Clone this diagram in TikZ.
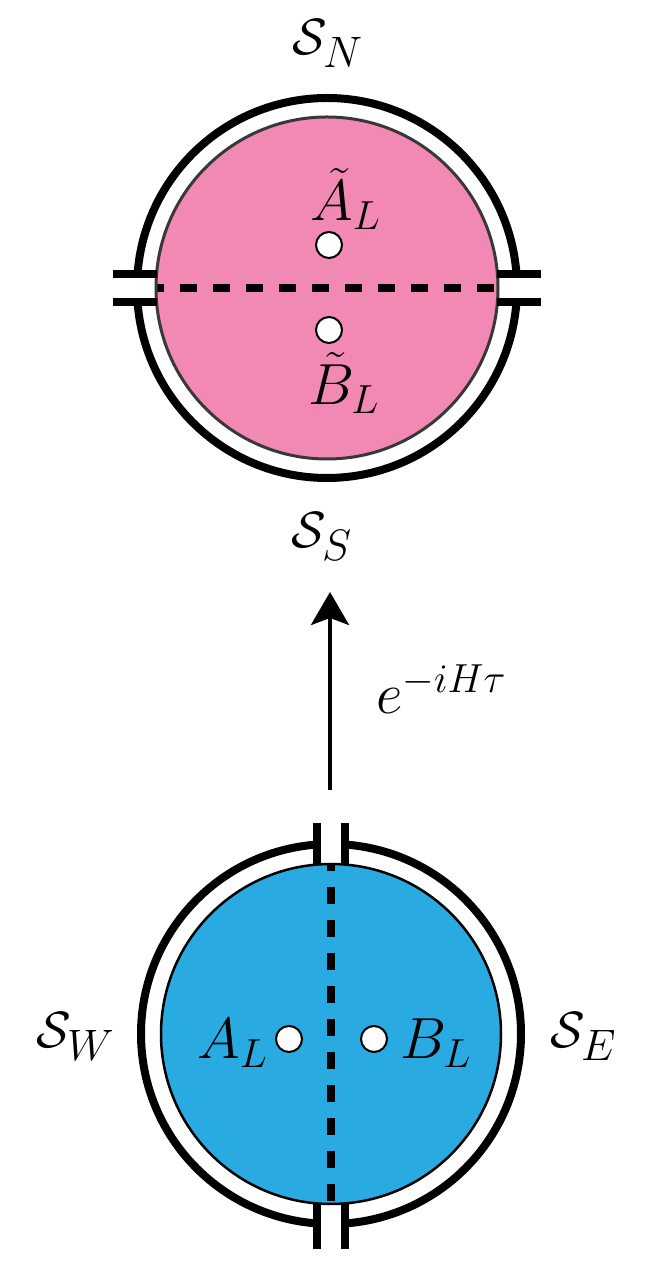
\RequirePackage{fix-cm}
\documentclass[tikz,border=0pt]{standalone}
\usetikzlibrary{arrows.meta}
\definecolor{pinkfill}{RGB}{242,137,180}
\definecolor{bluefill}{RGB}{41,170,225}
\newcommand{\ssub}[1]{\mbox{\fontsize{44}{46}\selectfont$#1$}}
\begin{document}
\begin{tikzpicture}[x=1pt,y=1pt,
  ring/.style={line width=8pt},
  stub/.style={line width=8pt},
  divider/.style={line width=8pt, dash pattern=on 17pt off 16pt},
  site/.style={circle, draw=black, line width=2pt, fill=white, minimum size=26pt, inner sep=0pt},
  lab/.style={inner sep=0pt, anchor=base west, font=\fontsize{58}{60}\selectfont},
  slab/.style={inner sep=0pt, anchor=base west, font=\fontsize{51}{53}\selectfont}]
\useasboundingbox (0,0) rectangle (664,1280);
% ---------- top disk ----------
\coordinate (T) at (327,992);
\fill[pinkfill] (T) circle[radius=171];
\draw[divider, dash phase=9pt] ([xshift=-171pt]T) -- ([xshift=171pt]T);
\draw[draw=black!78, line width=3pt] (T) circle[radius=171];
\draw[stub] ([shift={(-170,14)}]T) -- ++(-44,0);
\draw[stub] ([shift={(-170,-14)}]T) -- ++(-44,0);
\draw[stub] ([shift={(170,14)}]T) -- ++(44,0);
\draw[stub] ([shift={(170,-14)}]T) -- ++(44,0);
\draw[ring] ([shift={(4.23:190)}]T) arc[start angle=4.23, end angle=175.77, radius=190];
\draw[ring] ([shift={(184.23:190)}]T) arc[start angle=184.23, end angle=355.77, radius=190];
\node[site] (At) at (329,1035) {};
\node[site] (Bt) at (329,950) {};
\node[lab] (Atl) at (310,1059) {$\tilde{A}_L$};
\node[lab] (Btl) at (308,875) {$\tilde{B}_L$};
\node[slab] (SN) at (292,1225) {$\mathcal{S}_{\ssub{N}}$};
\node[slab] (SS) at (291,732) {$\mathcal{S}_{\ssub{S}}$};
% ---------- arrow ----------
\coordinate (arrS) at (330,490);
\coordinate (arrE) at (330,688);
\draw[line width=4pt, -{Stealth[length=33pt, width=38pt, inset=7pt]}] (arrS) -- (arrE);
\node[lab] (evo) at (376,566) {$e^{-iH\tau}$};
% ---------- bottom disk ----------
\coordinate (Bc) at (331,246);
\fill[bluefill] (Bc) circle[radius=170];
\draw[divider, dash phase=10pt] ([yshift=170pt]Bc) -- ([yshift=-170pt]Bc);
\draw[draw=black, line width=2.5pt] (Bc) circle[radius=170];
\draw[stub] ([shift={(-14,169)}]Bc) -- ++(0,42);
\draw[stub] ([shift={(14,169)}]Bc) -- ++(0,42);
\draw[stub] ([shift={(-14,-169)}]Bc) -- ++(0,-46);
\draw[stub] ([shift={(14,-169)}]Bc) -- ++(0,-46);
\draw[ring] ([shift={(85.77:190)}]Bc) arc[start angle=85.77, end angle=-85.77, radius=190];
\draw[ring] ([shift={(94.23:190)}]Bc) arc[start angle=94.23, end angle=265.77, radius=190];
\node[site] (Ab) at (289,241) {};
\node[site] (Bb) at (374,241) {};
\node[lab] (Abl) at (197,221) {$A_L$};
\node[lab] (Bbl) at (400,221) {$B_L$};
\node[slab] (SW) at (36,232) {$\mathcal{S}_{\ssub{W}}$};
\node[slab] (SE) at (550,232) {$\mathcal{S}_{\ssub{E}}$};
\end{tikzpicture}
\end{document}
